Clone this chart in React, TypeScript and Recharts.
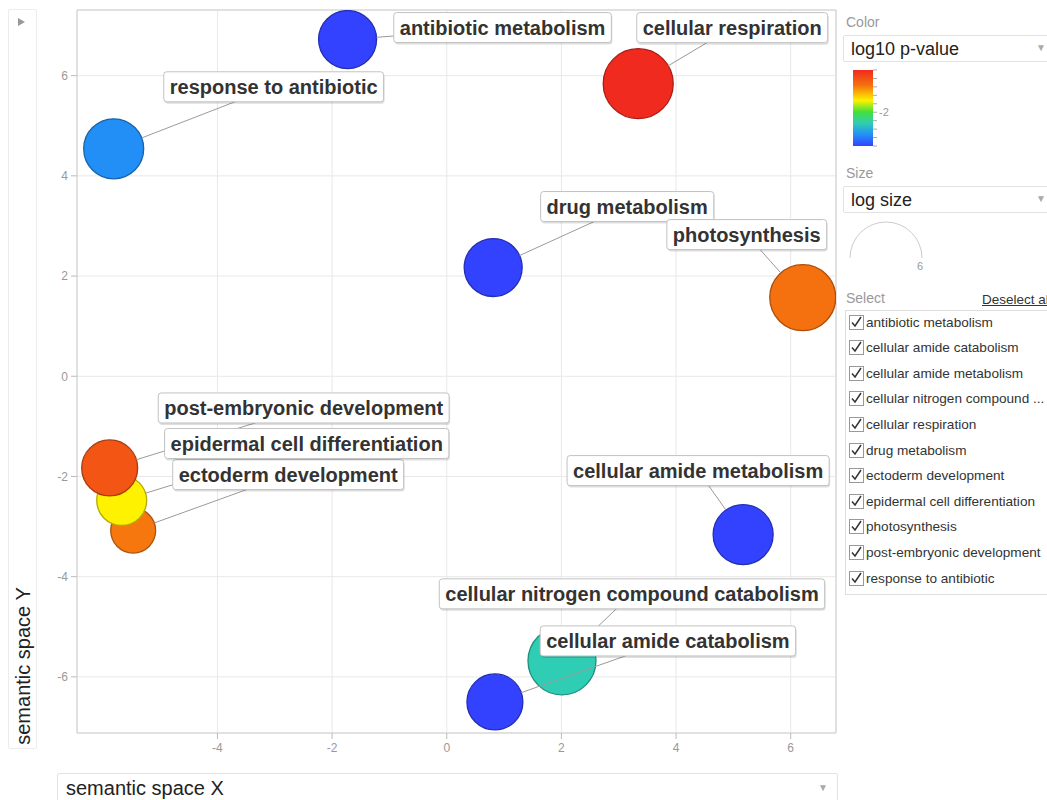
import React from 'react';
import { ScatterChart, Scatter, XAxis, YAxis, ZAxis, CartesianGrid, ReferenceArea } from 'recharts';

// GO terms (REVIGO semantic space)
const terms = [
  'antibiotic metabolism',
  'cellular amide catabolism',
  'cellular amide metabolism',
  'cellular nitrogen compound catabolism',
  'cellular respiration',
  'drug metabolism',
  'ectoderm development',
  'epidermal cell differentiation',
  'photosynthesis',
  'post-embryonic development',
  'response to antibiotic',
];
const semanticX = [-1.73, 0.84, 5.17, 2.01, 3.34, 0.81, -5.47, -5.67, 6.21, -5.88, -5.81];
const semanticY = [6.72, -6.5, -3.16, -5.68, 5.84, 2.17, -3.08, -2.48, 1.57, -1.83, 4.54];
const log10PValue = [-3.2, -3.2, -3.2, -2.39, -0.5, -3.2, -1.07, -1.58, -1.04, -0.83, -2.8];
const logSize = [3.96, 3.69, 4.24, 5.45, 5.77, 3.96, 2.38, 2.94, 5.13, 3.69, 4.24];

const xTicks = [-4, -2, 0, 2, 4, 6];
const yTicks = [-6, -4, -2, 0, 2, 4, 6];

const selectList = [
  'antibiotic metabolism',
  'cellular amide catabolism',
  'cellular amide metabolism',
  'cellular nitrogen compound ...',
  'cellular respiration',
  'drug metabolism',
  'ectoderm development',
  'epidermal cell differentiation',
  'photosynthesis',
  'post-embryonic development',
  'response to antibiotic',
];

// label box placement, px offset of box centre from bubble centre
const labelDX = [155, 173, -45, 70, 94, 134, 155, 185, -56, 194, 160];
const labelDY = [-12, -61, -64, -67, -56, -61, -56, -57, -63, -60, -62];

const X_DOMAIN: [number, number] = [-6.45, 6.79];
const Y_DOMAIN: [number, number] = [-7.12, 7.31];
const P_MIN = -3.2;
const P_MAX = -0.5;

const FONT = '"Liberation Sans", Arial, sans-serif';
const LABEL_FONT = `bold 20px ${FONT}`;

const colorStops: [number, string][] = [
  [0, '#3342ff'],
  [0.15, '#2290f6'],
  [0.3, '#2ecdb4'],
  [0.45, '#44e03a'],
  [0.6, '#fff200'],
  [0.8, '#f5700e'],
  [1, '#f02a1e'],
];

function hexRgb(h: string) {
  return [1, 3, 5].map((i) => parseInt(h.slice(i, i + 2), 16));
}

function pColor(v: number, k = 1) {
  let t = (v - P_MIN) / (P_MAX - P_MIN);
  t = Math.max(0, Math.min(1, t));
  let i = 0;
  while (i < colorStops.length - 2 && t > colorStops[i + 1][0]) i++;
  const [t0, c0] = colorStops[i];
  const [t1, c1] = colorStops[i + 1];
  const f = (t - t0) / (t1 - t0);
  const a = hexRgb(c0);
  const b = hexRgb(c1);
  const rgb = a.map((v0, j) => Math.round((v0 + (b[j] - v0) * f) * k));
  return `rgb(${rgb.join(',')})`;
}

let measureCtx: CanvasRenderingContext2D | null = null;
function textWidth(s: string, font: string) {
  if (!measureCtx) measureCtx = document.createElement('canvas').getContext('2d');
  if (!measureCtx) return s.length * 10;
  measureCtx.font = font;
  return measureCtx.measureText(s).width;
}

const data = terms.map((name, i) => ({
  i,
  name,
  x: semanticX[i],
  y: semanticY[i],
  z: logSize[i],
  p: log10PValue[i],
}));

function Bubble(props: any) {
  const { cx, cy, width, payload } = props;
  return (
    <circle
      cx={cx}
      cy={cy}
      r={width / 2}
      fill={pColor(payload.p)}
      stroke={pColor(payload.p, 0.7)}
      strokeWidth={1.3}
    />
  );
}

function Leader(props: any) {
  const { cx, cy, width, payload } = props;
  const dx = labelDX[payload.i];
  const dy = labelDY[payload.i];
  const len = Math.hypot(dx, dy);
  const r = width / 2;
  return (
    <line
      x1={cx + (dx / len) * r}
      y1={cy + (dy / len) * r}
      x2={cx + dx}
      y2={cy + dy}
      stroke="#9a9a9a"
      strokeWidth={1}
    />
  );
}

function LabelBox(props: any) {
  const { cx, cy, payload } = props;
  const lx = cx + labelDX[payload.i];
  const ly = cy + labelDY[payload.i];
  const w = textWidth(payload.name, LABEL_FONT) + 12;
  const h = 30;
  return (
    <g>
      <rect x={lx - w / 2 + 1} y={ly - h / 2 + 2} width={w} height={h} rx={3} fill="rgba(0,0,0,0.13)" />
      <rect x={lx - w / 2} y={ly - h / 2} width={w} height={h} rx={3} fill="#fff" stroke="#c2c2c2" />
      <text x={lx} y={ly + 7} textAnchor="middle" style={{ font: LABEL_FONT }} fill="#333">
        {payload.name}
      </text>
    </g>
  );
}

function CheckBox({ top, label }: { top: number; label: string }) {
  return (
    <div style={{ position: 'absolute', left: 849, top, height: 16, display: 'flex', alignItems: 'center' }}>
      <svg width={15} height={15} style={{ display: 'block' }}>
        <rect x={0.5} y={0.5} width={14} height={14} fill="#fff" stroke="#999" />
        <path d="M3 7.5 L6 11 L12 2" fill="none" stroke="#333" strokeWidth={1.5} />
      </svg>
      <span style={{ marginLeft: 2, fontSize: 13.6, color: '#333', whiteSpace: 'nowrap' }}>{label}</span>
    </div>
  );
}

function SidePanel() {
  const barTop = 70;
  const barH = 76;
  const ticks: number[] = [];
  for (let v = P_MIN; v <= P_MAX + 1e-6; v += 0.3) ticks.push(v);
  const grad = colorStops.map(([t, c]) => `${c} ${t * 100}%`).join(', ');
  const yOf = (v: number) => barTop + barH * (1 - (v - P_MIN) / (P_MAX - P_MIN));
  const dropdown = (top: number, text: string) => (
    <div
      style={{
        position: 'absolute', left: 843, top, width: 210, height: 27, boxSizing: 'border-box',
        border: '1px solid #e2e2e2', borderRadius: 2, background: '#fff',
      }}
    >
      <span style={{ position: 'absolute', left: 7, top: 3, fontSize: 18, color: '#222' }}>{text}</span>
      <span style={{ position: 'absolute', left: 192, top: 6, fontSize: 10, color: '#aaa' }}>▼</span>
    </div>
  );
  return (
    <>
      <div style={{ position: 'absolute', left: 846, top: 14, fontSize: 14, color: '#999' }}>Color</div>
      {dropdown(35, 'log10 p-value')}
      <div
        style={{
          position: 'absolute', left: 853, top: barTop, width: 20, height: barH,
          background: `linear-gradient(to top, ${grad})`,
        }}
      />
      <svg style={{ position: 'absolute', left: 873, top: 60, overflow: 'visible' }} width={30} height={100}>
        {ticks.map((v) => (
          <line key={v} x1={0} x2={4} y1={yOf(v) - 60} y2={yOf(v) - 60} stroke="#aaa" />
        ))}
        <text x={6} y={yOf(-2) - 60 + 4} fontSize={11} fill="#999" fontFamily={FONT}>-2</text>
      </svg>
      <div style={{ position: 'absolute', left: 846, top: 165, fontSize: 14, color: '#999' }}>Size</div>
      {dropdown(186, 'log size')}
      <svg style={{ position: 'absolute', left: 845, top: 215 }} width={90} height={60}>
        <path d="M5 43 A36 36 0 0 1 77 43" fill="none" stroke="#ccc" strokeWidth={1} />
        <text x={72} y={55} fontSize={11} fill="#999" fontFamily={FONT}>6</text>
      </svg>
      <div style={{ position: 'absolute', left: 846, top: 290, fontSize: 14, color: '#999' }}>Select</div>
      <div style={{ position: 'absolute', left: 982, top: 292, fontSize: 13.5, color: '#333', textDecoration: 'underline', whiteSpace: 'nowrap' }}>
        Deselect all
      </div>
      <div
        style={{
          position: 'absolute', left: 845, top: 310, width: 210, height: 285, boxSizing: 'border-box',
          border: '1px solid #ddd', background: '#fff',
        }}
      />
      {selectList.map((s, k) => (
        <CheckBox key={s} top={314 + k * 25.6} label={s} />
      ))}
    </>
  );
}

export default function App() {
  return (
    <div
      style={{
        position: 'absolute', left: 0, top: 0, width: 1047, height: 800, overflow: 'hidden',
        background: '#fff', fontFamily: FONT,
      }}
    >
      {/* left Y selector */}
      <div
        style={{
          position: 'absolute', left: 8, top: 9, width: 29, height: 740, boxSizing: 'border-box',
          border: '1px solid #ececec', borderRadius: 2,
        }}
      />
      <svg style={{ position: 'absolute', left: 17, top: 17 }} width={10} height={10}>
        <path d="M1 1 L8 5 L1 9 Z" fill="#999" />
      </svg>
      <div
        style={{
          position: 'absolute', left: 23, top: 666, transform: 'translate(-50%, -50%) rotate(-90deg)',
          fontSize: 20, color: '#222', whiteSpace: 'nowrap',
        }}
      >
        semantic space Y
      </div>

      <div style={{ position: 'absolute', left: 0, top: 0 }}>
        <ScatterChart width={1047} height={800} margin={{ top: 10, right: 211, bottom: 37, left: 47 }}>
          <CartesianGrid stroke="#e8e8e8" />
          <XAxis
            type="number"
            dataKey="x"
            domain={X_DOMAIN}
            ticks={xTicks}
            allowDataOverflow
            axisLine={false}
            tickLine={{ stroke: '#bbb' }}
            tickSize={6}
            tickMargin={4}
            height={30}
            tick={{ fill: '#999', fontSize: 12, fontFamily: FONT }}
          />
          <YAxis
            type="number"
            dataKey="y"
            domain={Y_DOMAIN}
            ticks={yTicks}
            allowDataOverflow
            axisLine={false}
            tickLine={{ stroke: '#bbb' }}
            tickSize={6}
            tickMargin={3}
            width={30}
            tick={{ fill: '#999', fontSize: 12, fontFamily: FONT }}
          />
          <ZAxis type="number" dataKey="z" domain={[0, 6]} range={[0, 4000]} />
          <ReferenceArea
            x1={X_DOMAIN[0]}
            x2={X_DOMAIN[1]}
            y1={Y_DOMAIN[0]}
            y2={Y_DOMAIN[1]}
            fill="none"
            stroke="#cfcfcf"
            ifOverflow="visible"
          />
          <Scatter data={data} shape={(p: any) => <Bubble {...p} />} isAnimationActive={false} />
          <Scatter data={data} shape={(p: any) => <Leader {...p} />} isAnimationActive={false} />
          <Scatter data={data} shape={(p: any) => <LabelBox {...p} />} isAnimationActive={false} />
        </ScatterChart>
      </div>

      <SidePanel />

      {/* bottom X selector */}
      <div
        style={{
          position: 'absolute', left: 57, top: 773, width: 781, height: 32, boxSizing: 'border-box',
          border: '1px solid #e2e2e2', borderRadius: 2,
        }}
      >
        <span style={{ position: 'absolute', left: 8, top: 3, fontSize: 20, color: '#222' }}>semantic space X</span>
        <span style={{ position: 'absolute', left: 760, top: 8, fontSize: 10, color: '#aaa' }}>▼</span>
      </div>
    </div>
  );
}
